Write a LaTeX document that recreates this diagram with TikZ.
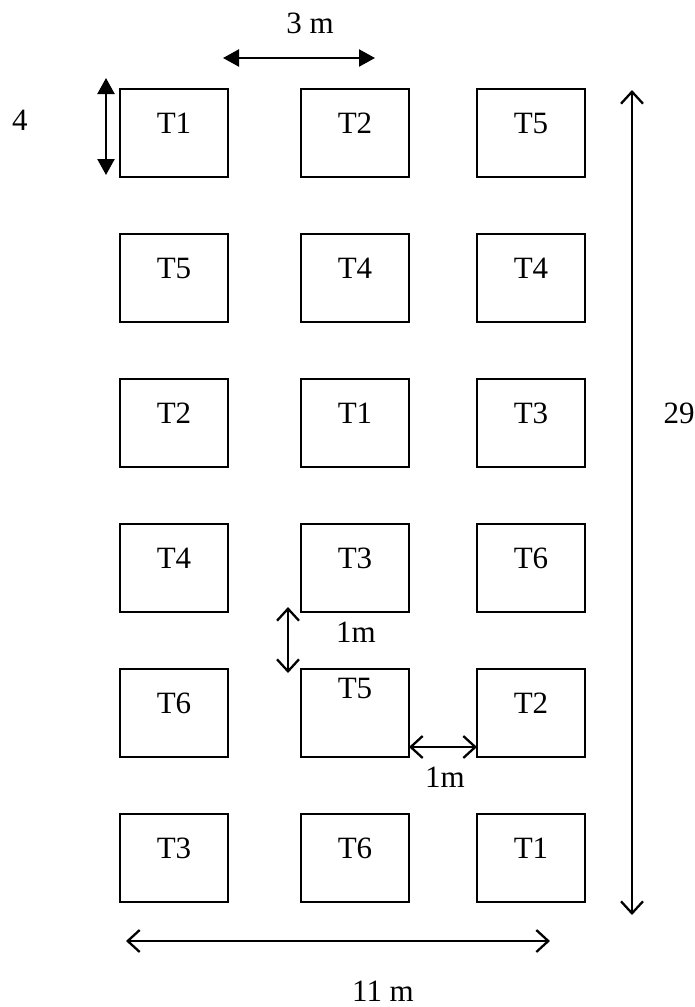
\documentclass[tikz,border=0pt]{standalone}
\usepackage{fontspec}
\setmainfont{Liberation Serif}
\usetikzlibrary{arrows.meta}
\begin{document}
\begin{tikzpicture}[x=1pt,y=-1pt,
  plotbox/.style={draw, line width=2.3pt, minimum width=108pt, minimum height=88pt,
    anchor=north west, inner sep=0pt, outer sep=0pt},
  lbl/.style={anchor=base, inner sep=0pt, text depth=0pt, font=\fontsize{31}{36}\selectfont},
  dimfill/.style={line width=2.3pt,
    {Triangle[length=16pt,width=17pt]}-{Triangle[length=16pt,width=17pt]}},
  dimopen/.style={line width=2.3pt,
    {Straight Barb[length=12pt,width=22pt]}-{Straight Barb[length=12pt,width=22pt]}},
]
\useasboundingbox (0,0) rectangle (695,1007);

% field layout: six rows of three plots, treatment in each plot
\foreach \r/\a/\b/\c in {1/T1/T2/T5, 2/T5/T4/T4, 3/T2/T1/T3, 4/T4/T3/T6, 5/T6/T5/T2, 6/T3/T6/T1}{
  \pgfmathsetmacro{\yy}{89+145*(\r-1)}
  \node[plotbox] (b\r1) at (120,\yy) {};
  \node[plotbox] (b\r2) at (301,\yy) {};
  \node[plotbox] (b\r3) at (477,\yy) {};
  \node[lbl] (t\r1) at ([yshift=-44pt]b\r1.north) {\a};
  \ifnum\r=5
    \node[lbl] (t\r2) at ([yshift=-29pt]b\r2.north) {\b};
  \else
    \node[lbl] (t\r2) at ([yshift=-44pt]b\r2.north) {\b};
  \fi
  \node[lbl] (t\r3) at ([yshift=-44pt]b\r3.north) {\c};
}

% dimension lines
\coordinate (w3a) at (223,58);
\coordinate (w3b) at (375,58);
\coordinate (h4a) at (106,78);
\coordinate (h4b) at (106,175);
\coordinate (h29a) at (632,90);
\coordinate (h29b) at (632,915);
\coordinate (w11a) at (126,941);
\coordinate (w11b) at (550,941);
\coordinate (g1a) at (288,607);
\coordinate (g1b) at (288,673);

\draw[dimfill] (w3a) -- (w3b);
\draw[dimfill] (h4a) -- (h4b);
\draw[dimopen] (h29a) -- (h29b);
\draw[dimopen] (w11a) -- (w11b);
\draw[dimopen] (g1a) -- (g1b);
\draw[dimopen] ([yshift=10pt]b52.south east) -- ([yshift=10pt]b53.south west);

% dimension texts
\node[lbl] (l3m) at (310,33) {3 m};
\node[lbl] (l4) at (20,130) {4};
\node[lbl] (l29) at (679,423) {29};
\node[lbl] (l11m) at (383,1001) {11 m};
\node[lbl] (l1mv) at (356,642) {1m};
\node[lbl] (l1mh) at (445,787) {1m};
\end{tikzpicture}
\end{document}
